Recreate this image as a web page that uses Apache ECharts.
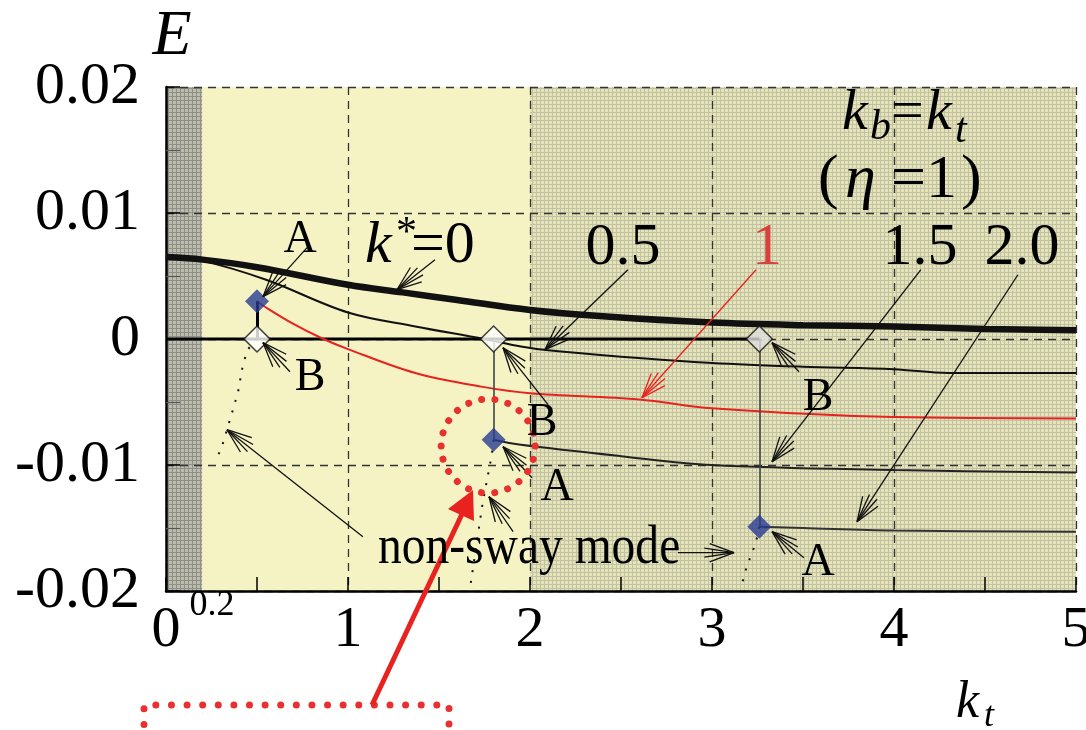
<!DOCTYPE html>
<html>
<head>
<meta charset="utf-8">
<script src="https://cdn.jsdelivr.net/npm/echarts@6/dist/echarts.min.js"></script>
<style>
  html, body { margin: 0; padding: 0; background: #ffffff; }
  #chart { width: 1086px; height: 730px; }
</style>
</head>
<body>
<div id="chart"></div>
<script>
// ---- axis ticks ----
const xTicks = [0, 1, 2, 3, 4, 5];
const yTicks = [-0.02, -0.01, 0, 0.01, 0.02];

// ---- shaded kt ranges ----
const zoneStart = [0, 0.2, 2];
const zoneEnd   = [0.2, 2, 5];
const zoneKind  = ['band', 'plain', 'tex'];

// ---- E vs kt, one curve per k* ----
const ktK0 = [0, 0.2, 0.5, 1.0, 1.3, 1.6, 2.0, 2.4, 3.0, 3.5, 4.0, 4.5, 5.0];
const eK0  = [0.0065, 0.0063, 0.0057, 0.0043, 0.0037, 0.0031, 0.0023, 0.0018, 0.0013, 0.0011, 0.0010, 0.0008, 0.0007];

const ktK05 = [0, 0.2, 0.55, 1.0, 1.37, 1.75, 1.95, 2.1, 2.5, 3.0, 3.5, 4.0, 4.3, 5.0];
const eK05  = [0.0065, 0.0062, 0.0047, 0.0021, 0.0010, 0.0000, -0.0006, -0.0009, -0.0014, -0.0019, -0.0022, -0.0024, -0.0027, -0.0027];

const ktK1 = [0.5, 0.55, 0.7, 0.85, 1.0, 1.37, 1.74, 2.0, 2.6, 3.0, 4.0, 5.0];
const eK1  = [0.0030, 0.0025, 0.0012, 0.0001, -0.0008, -0.0027, -0.0038, -0.0043, -0.0048, -0.0055, -0.0062, -0.0063];

const ktK15 = [1.8, 1.95, 2.5, 3.0, 4.0, 5.0];
const eK15  = [-0.0080, -0.0084, -0.0093, -0.0100, -0.0104, -0.0106];

const ktK2 = [3.26, 3.5, 4.0, 5.0];
const eK2  = [-0.0149, -0.0150, -0.0152, -0.0153];

// sway-free branch lying on E = 0
const ktZero = [0, 3.26];
const eZero  = [0, 0];

// bifurcation points: A (sway branch start), B (on E = 0)
const ktBif = [0.5, 1.8, 3.26];
const eA    = [0.0030, -0.0080, -0.0149];
const eB    = [0, 0, 0];

// non-sway mode branches (dotted)
const ktNs1 = [0.5, 0.445, 0.418, 0.396, 0.368, 0.308, 0.27];
const eNs1  = [0, -0.0009, -0.0024, -0.0042, -0.0056, -0.0085, -0.0098];
const ktNs2 = [1.8, 1.79, 1.74, 1.67];
const eNs2  = [-0.0080, -0.0092, -0.0130, -0.0198];
const ktNs3 = [3.26, 3.24, 3.19, 3.16];
const eNs3  = [-0.0149, -0.0162, -0.0181, -0.0197];

const pairs = (xs, ys) => xs.map((x, i) => [x, ys[i]]);

// ---- textures for the shaded ranges ----
function makeTexture(base, line, size) {
  const c = document.createElement('canvas');
  c.width = size; c.height = size;
  const g = c.getContext('2d');
  g.fillStyle = base; g.fillRect(0, 0, size, size);
  g.fillStyle = line;
  g.fillRect(0, 0, size, 1);
  g.fillRect(0, 0, 1, size);
  return c;
}
const fills = {
  band:  { image: makeTexture('#bdbdad', '#8f8f88', 4), repeat: 'repeat' },
  plain: '#f5f3c4',
  tex:   { image: makeTexture('#e5e3b8', '#c3c1a3', 4), repeat: 'repeat' }
};

const SERIF = '"Liberation Serif", "Times New Roman", serif';

const chart = echarts.init(document.getElementById('chart'), null, { renderer: 'canvas' });

const zoneData = zoneStart.map((s, i) => [s, zoneEnd[i], i]);

const curve = (xs, ys, color, width) => ({
  type: 'line', data: pairs(xs, ys), symbol: 'none', z: 4,
  smooth: 0.35,
  lineStyle: { color, width }
});

const option = {
  animation: false,
  backgroundColor: '#ffffff',
  grid: { left: 166, right: 10, top: 87, bottom: 139, containLabel: false, outerBoundsMode: 'none' },
  xAxis: {
    type: 'value', min: xTicks[0], max: xTicks[xTicks.length - 1], interval: 1,
    axisLine: { show: true, onZero: false, lineStyle: { color: '#000', width: 2.5 } },
    axisTick: { show: true, inside: true, length: 14, lineStyle: { color: '#000', width: 1.5 } },
    minorTick: { show: true, splitNumber: 2, length: 14, lineStyle: { color: '#000', width: 1.5 } },
    splitLine: { show: true, lineStyle: { type: [8, 6], color: '#333', width: 1.3 } },
    axisLabel: { fontFamily: SERIF, fontSize: 58, color: '#000', margin: 11 }
  },
  yAxis: {
    type: 'value', min: yTicks[0], max: yTicks[yTicks.length - 1], interval: 0.01,
    axisLine: { show: true, onZero: false, lineStyle: { color: '#000', width: 2.5 } },
    axisTick: { show: true, inside: true, length: 14, lineStyle: { color: '#000', width: 1.5 } },
    minorTick: { show: true, splitNumber: 2, length: 14, lineStyle: { color: '#555', width: 1.2 } },
    splitLine: { show: true, lineStyle: { type: [8, 6], color: '#333', width: 1.3 } },
    axisLabel: { fontFamily: SERIF, fontSize: 60, color: '#000', margin: 26 }
  },
  series: [
    {
      type: 'custom', z: -1, silent: true,
      data: zoneData,
      renderItem: (params, api) => {
        const p0 = api.coord([api.value(0), yTicks[yTicks.length - 1]]);
        const p1 = api.coord([api.value(1), yTicks[0]]);
        return {
          type: 'rect',
          shape: { x: p0[0], y: p0[1], width: p1[0] - p0[0], height: p1[1] - p0[1] },
          style: { fill: fills[zoneKind[api.value(2)]] }
        };
      }
    },
    { type: 'line', data: pairs(ktZero, eZero), symbol: 'none', z: 3,
      lineStyle: { color: '#000', width: 3 } },
    curve(ktK0, eK0, '#111', 6.5),
    curve(ktK05, eK05, '#111', 2),
    curve(ktK1, eK1, '#e8221f', 2),
    curve(ktK15, eK15, '#222', 2),
    curve(ktK2, eK2, '#333', 2),
    // non-sway branches
    ...[[ktNs1, eNs1], [ktNs2, eNs2], [ktNs3, eNs3]].map(([xs, ys]) => ({
      type: 'line', data: pairs(xs, ys), symbol: 'none', z: 3,
      lineStyle: { color: '#111', width: 2, type: [2, 9] }
    })),
    // A–B connectors
    {
      type: 'line', data: [], z: 4, symbol: 'none',
      markLine: {
        silent: true, symbol: ['none', 'none'], label: { show: false },
        data: ktBif.map((k, i) => [
          { coord: [k, eA[i]], lineStyle: { color: i === 0 ? '#000' : '#444', width: i === 0 ? 3 : 1.6, type: 'solid' } },
          { coord: [k, eB[i]] }
        ])
      }
    },
    {
      type: 'scatter', z: 6, symbol: 'diamond', symbolSize: [26, 26],
      itemStyle: { color: '#fff', borderColor: '#111', borderWidth: 1.5 },
      data: ktBif.map((k, i) => ({ value: [k, eB[i]], itemStyle: i === 2 ? { color: '#dedede' } : {} }))
    },
    {
      type: 'scatter', z: 7, symbol: 'diamond', symbolSize: [24, 24],
      itemStyle: { color: '#283c92' },
      data: pairs(ktBif, eA)
    }
  ]
};
chart.setOption(option);

// ---- annotation arrows (tail -> tip, in kt/E units) ----
const arrowFrom = [
  [0.775, 0.00725], [1.478, 0.00629], [0.681, -0.00260], [1.082, -0.01569],
  [1.907, -0.01529], [2.813, -0.01696], [2.011, -0.01101], [2.099, -0.00521],
  [2.538, 0.00550], [3.242, 0.00550], [4.148, 0.00550], [4.681, 0.00510],
  [3.478, -0.00260], [3.505, -0.01736]
];
const arrowTo = [
  [0.533, 0.00336], [1.269, 0.00391], [0.533, -0.00029], [0.335, -0.00720],
  [1.775, -0.01252], [3.121, -0.01696], [1.852, -0.00855], [1.852, -0.00069],
  [2.082, -0.00085], [2.615, -0.00466], [3.330, -0.00974], [3.797, -0.01450],
  [3.330, -0.00029], [3.330, -0.01529]
];
const arrowColor = ['#111', '#111', '#111', '#111', '#111', '#111', '#111', '#111',
                    '#111', '#e8221f', '#111', '#111', '#111', '#111'];

const px = p => chart.convertToPixel({ gridIndex: 0 }, p);
const graphics = [];

function seg(x1, y1, x2, y2, stroke, w) {
  return { type: 'line', z: 50, silent: true,
    shape: { x1, y1, x2, y2 }, style: { stroke, lineWidth: w } };
}

arrowFrom.forEach((f, i) => {
  const [x1, y1] = px(f);
  const [x2, y2] = px(arrowTo[i]);
  const c = arrowColor[i];
  graphics.push(seg(x1, y1, x2, y2, c, 1.3));
  const ang = Math.atan2(y1 - y2, x1 - x2);
  [-0.36, -0.15, 0.15, 0.36].forEach(d => {
    const L = Math.abs(d) > 0.3 ? 26 : 30;
    graphics.push(seg(x2, y2, x2 + L * Math.cos(ang + d), y2 + L * Math.sin(ang + d), c, 1.3));
  });
});

// ---- highlighted point ----
const ring = px([1.77, -0.0085]);
graphics.push({
  type: 'circle', z: 55, silent: true,
  shape: { cx: ring[0], cy: ring[1], r: 47 },
  style: { fill: null, stroke: '#e8302e', lineWidth: 7, lineDash: [0.01, 13.4], lineCap: 'round' }
});
graphics.push({
  type: 'polyline', z: 55, silent: true,
  shape: { points: [[144, 740], [144, 705], [449, 705], [449, 740]] },
  style: { fill: null, stroke: '#e8302e', lineWidth: 7, lineDash: [0.01, 15.6], lineCap: 'round' }
});
graphics.push({
  type: 'line', z: 56, silent: true,
  shape: { x1: 372, y1: 705, x2: 463, y2: 512 },
  style: { stroke: '#e8221f', lineWidth: 5 }
});
graphics.push({
  type: 'polygon', z: 56, silent: true,
  shape: { points: [[473, 490], [448, 509], [474, 521]] },
  style: { fill: '#e8221f' }
});

// ---- text ----
function txt(text, x, y, size, opts = {}) {
  return {
    type: 'text', z: 60, silent: true, x, y,
    scaleX: opts.sx || 1,
    style: {
      legacy: false,
      text,
      fill: opts.fill || '#000',
      font: (opts.italic ? 'italic ' : '') + size + 'px ' + SERIF,
      align: opts.align || 'center',
      verticalAlign: 'middle'
    }
  };
}

graphics.push(
  txt('E', 172, 37, 64, { italic: true }),
  txt('0.2', 212, 606, 36),
  txt('k', 956, 703, 52, { italic: true, align: 'left' }),
  txt('t', 984, 717, 36, { italic: true, align: 'left' }),

  txt('A', 300, 240, 46),
  txt('B', 310, 378, 46),
  txt('A', 557, 488, 46),
  txt('B', 542, 423, 46),
  txt('B', 818, 398, 46),
  txt('A', 818, 563, 46),

  txt('k', 365, 246, 60, { italic: true, align: 'left' }),
  txt('*', 396, 234, 42, { align: 'left' }),
  txt('=0', 411, 246, 60, { align: 'left' }),

  txt('0.5', 623, 248, 60),
  txt('1', 767, 248, 60, { fill: '#d7403c' }),
  txt('1.5', 920, 248, 60),
  txt('2.0', 1022, 248, 60),

  txt('non-sway mode', 378, 549, 54, { align: 'left', sx: 0.88 }),

  txt('k', 842, 114, 58, { italic: true, align: 'left' }),
  txt('b', 870, 128, 42, { italic: true, align: 'left' }),
  txt('=', 891, 114, 58, { align: 'left' }),
  txt('k', 926, 114, 58, { italic: true, align: 'left' }),
  txt('t', 955, 131, 42, { italic: true, align: 'left' }),

  txt('(', 818, 181, 62, { align: 'left' }),
  txt('\u03b7', 845, 181, 62, { italic: true, align: 'left' }),
  txt('=1', 891, 181, 62, { align: 'left' }),
  txt(')', 961, 181, 62, { align: 'left' })
);

chart.setOption({ graphic: { elements: graphics } });
</script>
</body>
</html>
